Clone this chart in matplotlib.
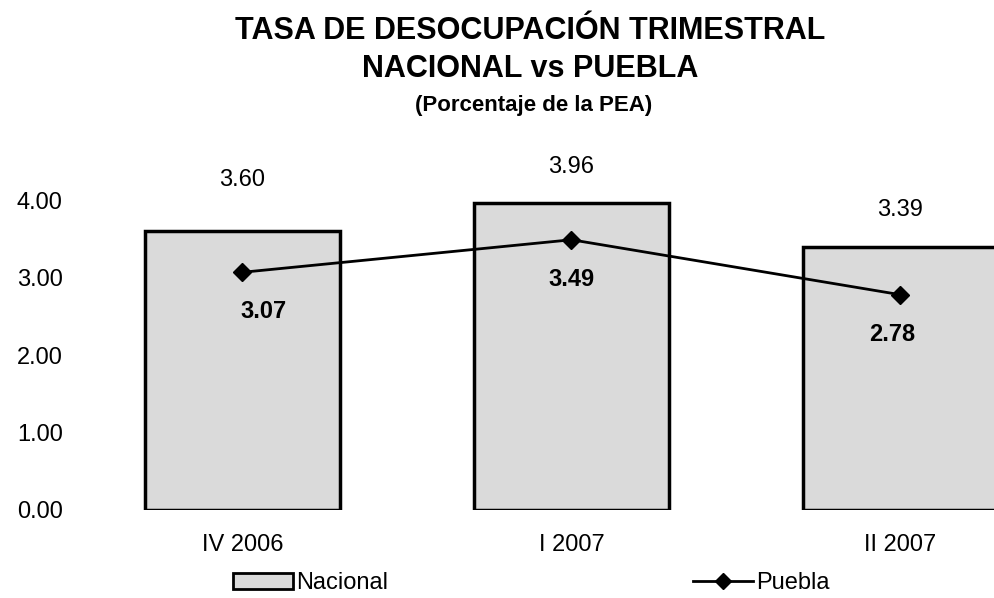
import matplotlib.pyplot as plt
from matplotlib.patches import Patch
from matplotlib.lines import Line2D

plt.rcParams['font.family'] = ['Liberation Sans', 'DejaVu Sans']

periodos = ['IV 2006', 'I 2007', 'II 2007']
nacional = [3.60, 3.96, 3.39]
puebla = [3.07, 3.49, 2.78]
yticks = [0.0, 1.0, 2.0, 3.0, 4.0]

fig = plt.figure(figsize=(9.95, 5.98), dpi=100)
ax = fig.add_axes([78 / 995, 88 / 598, (995 - 78) / 995, (510 - 160) / 598])

x = list(range(len(periodos)))
ax.bar(x, nacional, width=0.59, color='#dadada', edgecolor='black', linewidth=2.5)
ax.plot(x, puebla, color='black', linewidth=2, marker='D', markersize=9)

# etiquetas de valores
nac_off = [(0, 29), (0, 18), (0, 19)]
for xi, v, off in zip(x, nacional, nac_off):
    ax.annotate(f'{v:.2f}', (xi, v), xytext=off, textcoords='offset points',
                ha='center', va='bottom', fontsize=17)
pue_off = [(15, -20), (0, -20), (-6, -20)]
for xi, v, off in zip(x, puebla, pue_off):
    ax.annotate(f'{v:.2f}', (xi, v), xytext=off, textcoords='offset points',
                ha='center', va='top', fontsize=17, fontweight='bold')

ax.set_xlim(-0.5, -0.5 + (995 - 78) / 329)
ax.set_ylim(0, 4.52)
ax.set_yticks(yticks)
ax.set_yticklabels([f'{t:.2f}' for t in yticks], fontsize=17)
ax.set_xticks(x)
ax.set_xticklabels(periodos, fontsize=17)
ax.tick_params(length=0, pad=11)
ax.tick_params(axis='x', pad=17)
for s in ax.spines.values():
    s.set_visible(False)

fig.text(0.533, 0.948, 'TASA DE DESOCUPACIÓN TRIMESTRAL', ha='center', va='center',
         fontsize=22, fontweight='bold')
fig.text(0.533, 0.885, 'NACIONAL vs PUEBLA', ha='center', va='center',
         fontsize=22, fontweight='bold')
fig.text(0.536, 0.823, '(Porcentaje de la PEA)', ha='center', va='center',
         fontsize=16, fontweight='bold')

handles = [Patch(facecolor='#dadada', edgecolor='black', linewidth=2),
           Line2D([], [], color='black', linewidth=2, marker='D', markersize=8)]
fig.legend(handles, ['Nacional', 'Puebla'], ncol=2, loc='center',
           bbox_to_anchor=(0.534, 0.025), frameon=False, fontsize=17,
           handlelength=2.55, handletextpad=0.12, columnspacing=12.9)

fig.savefig('out.png', dpi=100)
